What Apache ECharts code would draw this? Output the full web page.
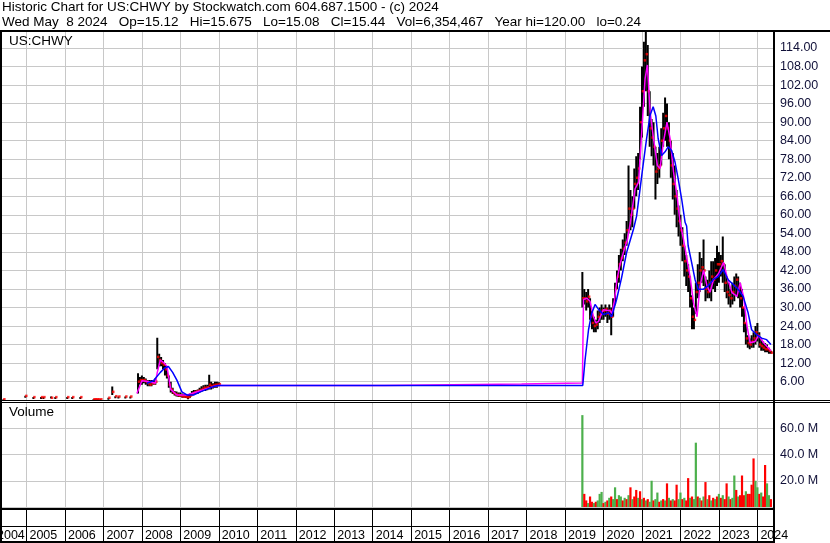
<!DOCTYPE html>
<html><head><meta charset="utf-8">
<script src="https://cdn.jsdelivr.net/npm/echarts@6.0.0/dist/echarts.min.js"></script>
<style>html,body{margin:0;padding:0;background:#fff;width:830px;height:543px;overflow:hidden;position:relative}
#c{position:absolute;left:-12px;top:0;width:842px;height:543px}</style>
</head><body><div id="c"></div>
<script>
// ---------- DATA ----------
const yearLabels = [2004,2005,2006,2007,2008,2009,2010,2011,2012,2013,2014,2015,2016,2017,2018,2019,2020,2021,2022,2023,2024];
const priceTicks = [6,12,18,24,30,36,42,48,54,60,66,72,78,84,90,96,102,108,114];
const volTicks = [20,40,60];

// sparse early trades (fractional year, low, high, close)
const earlyT  = [2004.40,2004.97,2005.18,2005.38,2005.44,2005.64,2005.75,2006.06,2006.19,2006.40,2006.74,2006.78,2006.82,2006.86,2006.92,2007.13,2007.23,2007.31,2007.39,2007.57,2007.70];
const earlyLo = [0.3,1.4,1.0,1.0,1.0,0.6,1.0,1.0,1.0,1.0,0.3,0.3,0.3,0.3,0.3,0.8,1.7,1.3,1.2,1.2,1.2];
const earlyHi = [0.3,1.4,1.0,1.0,1.0,1.2,1.0,1.0,1.0,1.0,0.3,0.3,0.3,0.3,0.3,0.8,4.4,1.3,1.2,1.2,1.2];
const earlyCl = [0.3,1.4,1.0,1.0,1.0,0.8,1.0,1.0,1.0,1.0,0.3,0.3,0.3,0.3,0.3,0.8,2.7,1.3,1.2,1.2,1.2];

// 2007-2010 segment
const aT  = [2007.90,2007.95,2008.00,2008.05,2008.10,2008.15,2008.20,2008.25,2008.30,2008.35,2008.40,2008.45,2008.50,2008.55,2008.60,2008.65,2008.70,2008.75,2008.80,2008.85,2008.90,2008.95,2009.00,2009.05,2009.10,2009.15,2009.20,2009.25,2009.30,2009.35,2009.40,2009.45,2009.50,2009.55,2009.60,2009.65,2009.70,2009.75,2009.80,2009.85,2009.90,2009.95,2010.00];
const aLo = [2.2,5.0,5.0,5.5,5.0,4.5,4.5,4.5,5.0,5.0,10.0,11.0,11.0,10.0,8.0,7.0,4.0,2.5,2.0,1.5,1.2,1.0,1.0,0.8,0.8,0.7,0.3,0.8,1.5,1.8,2.0,2.0,2.5,2.7,3.0,3.0,3.2,3.5,3.5,3.8,4.0,4.0,4.5];
const aHi = [8.7,7.5,8.0,7.5,7.0,6.5,6.5,6.5,6.5,7.0,20.2,15.0,14.0,13.0,12.0,11.0,8.0,6.0,4.0,3.0,2.8,2.5,2.5,2.2,2.0,2.0,1.8,2.2,3.0,3.3,3.3,3.5,4.0,4.5,4.8,5.0,5.0,8.2,6.0,5.5,6.0,6.0,5.8];
const aCl = [6.0,6.5,6.5,6.5,6.0,5.5,5.0,5.5,5.5,6.0,14.0,13.0,12.0,11.5,10.0,8.0,5.0,3.5,2.5,2.0,1.8,1.5,1.5,1.2,1.2,1.0,1.0,1.5,2.0,2.5,2.8,3.0,3.2,3.5,4.0,4.0,4.2,5.0,4.5,4.8,5.0,5.0,5.2];

// 2019-2024 segment
const bT = [2019.45,2019.50,2019.55,2019.60,2019.65,2019.70,2019.75,2019.80,2019.85,2019.90,2019.95,
 2020.00,2020.05,2020.10,2020.15,2020.20,2020.25,2020.30,2020.35,2020.40,2020.45,2020.50,2020.55,2020.60,2020.65,2020.70,2020.75,2020.80,2020.85,2020.90,2020.95,
 2021.00,2021.05,2021.10,2021.15,2021.20,2021.25,2021.30,2021.35,2021.40,2021.45,2021.50,2021.55,2021.60,2021.65,2021.70,2021.75,2021.80,2021.85,2021.90,2021.95,
 2022.00,2022.05,2022.10,2022.15,2022.20,2022.25,2022.30,2022.35,2022.40,2022.45,2022.50,2022.55,2022.60,2022.65,2022.70,2022.75,2022.80,2022.85,2022.90,2022.95,
 2023.00,2023.05,2023.10,2023.15,2023.20,2023.25,2023.30,2023.35,2023.40,2023.45,2023.50,2023.55,2023.60,2023.65,2023.70,2023.75,2023.80,2023.85,2023.90,2023.95,
 2024.00,2024.05,2024.10,2024.15,2024.20,2024.25,2024.30,2024.35];
const bLo = [30,31,29,30,26,23,22,22,23,25,26,
 26,27,25,26,21,27,31,36,38,42,45,47,50,54,55,56,62,66,68,78,
 85,95,100,92,82,79,76,65,70,72,76,82,84,82,78,72,65,60,56,53,
 50,45,40,37,35,30,23,23,28,33,35,38,37,32,33,33,32,36,35,37,
 38,40,38,35,33,31,30,31,32,34,33,30,27,22,18,17,16.5,17,17,18,
 19,17,16,16,15.5,15.5,15,15];
const bHi = [41.5,36,35,36,33,29,27,26,29,30,31,
 30,31,30,31,30,33,38,42,47,49,52,54,58,76,68,66,75,79,80,95,
 108,116,120,115,100,91,90,82,80,82,88,93,98,96,90,84,80,76,68,63,
 60,56,50,47,44,40,34,30,38,44,48,46,52,40,39,42,45,45,46,50,
 48,47,53,44,40,38,36,38,40,41,40,38,36,30,25,21,20,21,22,24,
 25,22,20,19,18.5,18,17,16];
const bCl = [33,33,32,33.5,27,25,24,24.5,27,28,29,
 29,29.5,28,29,27,31,36,40,44,46,49,51,55,62,60,62,70,72,75,90,
 100,110,112,100,88,85,82,74,75,76,84,88,92,88,84,76,70,66,62,58,
 55,50,45,42,40,33,27,26,35,38,42,43,42,36,35,38,40,39,42,44,
 44,45,44,38,35,34,33,35,37,39,36,33,30,25,20,18.5,18,19,20,22,
 21,18,17.5,17,16.5,16.5,16,15.4];
// volume in millions, and up(1)/down(0) day flag
const bVol = [70,10,5,3,8,4,3,4,5,10,11.5,
 3,4,5,7,8,6,15,6,9,8,5,7,6,9,15,6,8,13,7,12,
 6,7,5,6,4,20,5,6,11,4,5,6,5,18,7,5,6,5,17,6,
 11,6,7,5,22,7,8,6,49,8,7,5,8,19,6,9,5,7,6,8,
 10,7,9,6,18,8,6,7,24,13,8,9,24,9,12,10,10,17,37,20,
 15,10,11,8,32,18,9,6];
const bUp = [1,0,0,1,0,0,1,0,1,1,1,
 0,1,0,1,0,1,1,0,1,1,0,1,0,1,0,1,0,0,1,0,
 1,0,1,0,1,1,0,1,1,0,1,0,1,0,1,0,1,0,0,1,
 1,0,1,0,0,1,0,1,1,0,1,0,1,0,1,0,1,0,1,0,
 1,0,1,0,0,1,0,1,1,0,1,0,0,0,1,0,0,0,0,1,
 1,0,1,0,0,1,1,0];

// short moving average (magenta)
const maT = [2007.87,2008.00,2008.20,2008.35,2008.40,2008.48,2008.58,2008.65,2008.75,2008.91,2009.17,2009.50,2009.86,2009.99,2014.30,2014.31,2017.87,2017.88,2019.45,
 2019.48,2019.57,2019.65,2019.74,2019.80,2019.87,2019.95,2020.00,2020.10,2020.17,2020.22,2020.28,2020.35,2020.43,2020.52,2020.62,2020.70,2020.82,2020.91,
 2021.00,2021.08,2021.14,2021.21,2021.30,2021.40,2021.47,2021.56,2021.65,2021.73,2021.82,2021.91,2021.99,
 2022.08,2022.17,2022.25,2022.34,2022.43,2022.51,2022.60,2022.69,2022.77,2022.86,2022.99,
 2023.12,2023.21,2023.34,2023.47,2023.55,2023.64,2023.73,2023.81,2023.94,2024.03,2024.16,2024.33,2024.35];
const maV = [2.2,6.3,6.0,5.5,9,13,12,11,3.5,1.7,1.7,3.0,4.4,4.75,4.75,5.25,5.25,5.6,5.6,
 32.6,33,32,27,25,25.5,28,29.3,29,29,28,32,39,44,48,52,57.6,68.4,70.6,
 88,104,108.5,93.5,84.7,76,75,83.7,90,84.7,73.9,66.3,57.6,
 52,45.6,40,31.5,27,37,42,37,35,39,41,
 44.6,40,34.8,33.6,38,33.6,24,18.6,19,21,18.6,16.3,16];
// long moving average (blue)
const mbT = [2008.13,2008.30,2008.48,2008.60,2008.69,2008.80,2008.91,2009.04,2009.17,2009.34,2009.52,2009.86,2009.99,
 2019.46,2019.52,2019.61,2019.69,2019.78,2019.87,2020.00,2020.13,2020.21,2020.34,2020.47,2020.60,2020.78,2020.86,2020.95,
 2021.04,2021.12,2021.21,2021.29,2021.36,2021.42,2021.51,2021.60,2021.68,2021.77,2021.86,2021.94,
 2022.03,2022.12,2022.16,2022.20,2022.29,2022.38,2022.46,2022.59,2022.72,2022.85,2022.98,
 2023.11,2023.24,2023.37,2023.50,2023.63,2023.76,2023.85,2023.98,2024.11,2024.24,2024.35];
const mbV = [5.5,6.3,9,10.5,10.9,9,6.5,2.7,1.7,1.7,2.7,4.4,4.75,
 4.75,13,22.8,28,31,29.4,27.7,28.3,27,32.6,39.7,47.8,55.4,59.6,68.4,
 77.2,84.7,92.2,95,92,84.7,79.2,80.4,82,80.8,77,71.7,
 65.2,57.6,56.4,50,44.6,39,35.9,35.9,37,39,40,
 42.3,39,37.5,35.9,33.6,28.2,22.8,21.2,20.1,19.6,18];

const titleLine1 = 'Historic Chart for US:CHWY by Stockwatch.com 604.687.1500 - (c) 2024';
const titleLine2 = 'Wed May  8 2024   Op=15.12   Hi=15.675   Lo=15.08   Cl=15.44   Vol=6,354,467   Year hi=120.00   lo=0.24';

// ---------- CHART ----------
// the chart canvas is shifted 12px left so that the year 2004 sits just off the left edge
const SX = 12;
const FONT = 'Liberation Sans';
const TXT = '#000';
const LBL = '#101038';
const GRIDC = '#c8c8c8';
const RED = '#ff0000', GREEN = '#4cb04c';

const hl = [];
earlyT.forEach((t,i)=>hl.push([t, earlyLo[i], earlyHi[i]]));
aT.forEach((t,i)=>hl.push([t, aLo[i], aHi[i]]));
bT.forEach((t,i)=>hl.push([t, bLo[i], bHi[i]]));
const closes = [];
earlyT.forEach((t,i)=>closes.push([t, earlyCl[i]]));
aT.forEach((t,i)=>closes.push([t, aCl[i]]));
bT.forEach((t,i)=>closes.push([t, bCl[i]]));
const vol = bT.map((t,i)=>({value:[t,bVol[i]], itemStyle:{color: bUp[i] ? GREEN : RED}}));

const X0 = yearLabels[0];
const XMAX = 2024.4315;
const gridL = 0, gridW = 786;

function xAx(i){
  return {
    type:'value', gridIndex:i, min:X0, max:XMAX, interval:1,
    axisLine:{show:false}, axisTick:{show:false},
    axisLabel: i<2 ? {show:false} : {
      show:true, inside:true, margin:5.7, verticalAlign:'middle', align:'left',
      padding:[0,0,0,3], showMaxLabel:false, showMinLabel:true,
      color:TXT, fontFamily:FONT, fontSize:12.5,
      formatter: v => yearLabels.indexOf(v) < 0 ? '' : (v === X0 ? '{f|' + v + '}' : String(v)),
      rich:{f:{padding:[0,0,0,6], fontFamily:FONT, fontSize:12.5, color:TXT}}
    },
    splitLine:{show:true, lineStyle:{color: i<2 ? GRIDC : '#000', width:1}}
  };
}

const option = {
  animation:false,
  backgroundColor:'#fff',
  grid:[
    {left:gridL, width:gridW, top:31, height:369.2},
    {left:gridL, width:gridW, top:402, height:105},
    {left:gridL, width:gridW, top:509, height:32}
  ],
  xAxis:[xAx(0), xAx(1), xAx(2)],
  yAxis:[
    {type:'value', gridIndex:0, position:'right', min:0, max:119.5, interval:6,
     axisLine:{show:false}, axisTick:{show:false},
     axisLabel:{margin:6, showMinLabel:false, showMaxLabel:false, color:LBL, fontFamily:FONT, fontSize:12.5,
       formatter: v => priceTicks.indexOf(v) >= 0 ? v.toFixed(2) : ''},
     splitLine:{show:true, lineStyle:{color:GRIDC, width:1}}},
    {type:'value', gridIndex:1, position:'right', min:0, max:80, interval:20,
     axisLine:{show:false}, axisTick:{show:false},
     axisLabel:{margin:6, showMinLabel:false, showMaxLabel:false, color:LBL, fontFamily:FONT, fontSize:12.5,
       formatter: v => volTicks.indexOf(v) >= 0 ? v.toFixed(1) + ' M' : ''},
     splitLine:{show:true, lineStyle:{color:GRIDC, width:1}}},
    {type:'value', gridIndex:2, show:false, min:0, max:1}
  ],
  series:[
    {type:'custom', xAxisIndex:0, yAxisIndex:0, data:hl, clip:true, z:2,
     encode:{x:0, y:[1,2]},
     renderItem:(params, api)=>{
       const lo = api.coord([api.value(0), api.value(1)]);
       const hi = api.coord([api.value(0), api.value(2)]);
       const h = Math.max(lo[1]-hi[1], 2);
       return {type:'rect', shape:{x:lo[0]-1, y:hi[1], width:2, height:h}, style:{fill:'#000'}};
     }},
    {type:'scatter', xAxisIndex:0, yAxisIndex:0, data:closes, symbol:'rect', symbolSize:[2.5,2.5],
     symbolOffset:[1,0], itemStyle:{color:RED}, z:3, silent:true},
    {type:'line', xAxisIndex:0, yAxisIndex:0, data:maT.map((t,i)=>[t,maV[i]]), showSymbol:false,
     lineStyle:{color:'#ff00ff', width:1.5}, z:4, clip:true},
    {type:'line', xAxisIndex:0, yAxisIndex:0, data:mbT.map((t,i)=>[t,mbV[i]]), showSymbol:false,
     lineStyle:{color:'#0000ff', width:1.5}, z:5, clip:true},
    {type:'bar', xAxisIndex:1, yAxisIndex:1, data:vol, barWidth:2.2, z:2}
  ],
  graphic:[
    {type:'text', x:2+SX, y:6.9, z:100, style:{text:titleLine1, fill:TXT, font:'13.5px "Liberation Sans"', verticalAlign:'middle'}},
    {type:'text', x:2+SX, y:21.9, z:100, style:{text:titleLine2, fill:TXT, font:'13.5px "Liberation Sans"', verticalAlign:'middle'}},
    {type:'text', x:9+SX, y:41.7, z:100, style:{text:'US:CHWY', fill:TXT, font:'13.5px "Liberation Sans"', verticalAlign:'middle'}},
    {type:'text', x:9+SX, y:412.7, z:100, style:{text:'Volume', fill:TXT, font:'13.5px "Liberation Sans"', verticalAlign:'middle'}},
    // frame lines
    {type:'rect', z:100, shape:{x:SX, y:30, width:830, height:2}, style:{fill:'#000'}},
    {type:'rect', z:100, shape:{x:SX, y:30, width:2, height:513}, style:{fill:'#000'}},
    {type:'rect', z:100, shape:{x:773+SX, y:30, width:2, height:513}, style:{fill:'#000'}},
    {type:'rect', z:100, shape:{x:SX, y:400, width:830, height:1}, style:{fill:'#000'}},
    {type:'rect', z:100, shape:{x:SX, y:402, width:830, height:1}, style:{fill:'#000'}},
    {type:'rect', z:100, shape:{x:SX, y:508, width:774, height:2}, style:{fill:'#000'}},
    {type:'rect', z:100, shape:{x:SX, y:526, width:774, height:1}, style:{fill:'#000'}},
    {type:'rect', z:100, shape:{x:SX, y:541, width:774, height:2}, style:{fill:'#000'}}
  ]
};
const chart = echarts.init(document.getElementById('c'));
chart.setOption(option);
</script>
</body></html>
